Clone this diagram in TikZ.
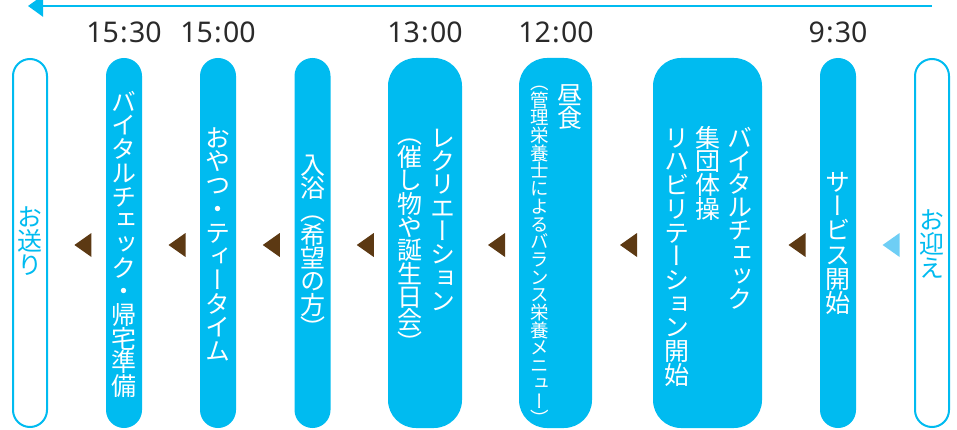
\documentclass[tikz,border=0pt]{standalone}
\usepackage{fontspec}
\newfontfamily\jpfont[RawFeature=+vert]{Noto Sans CJK JP}
\newfontfamily\numfont{Noto Sans}
\usetikzlibrary{calc,arrows.meta}
\definecolor{cyanA}{HTML}{00BBF0}
\definecolor{brownA}{HTML}{5C3913}
\definecolor{lightA}{HTML}{6ECEF5}
\definecolor{timeA}{HTML}{2A2A2A}
\ExplSyntaxOn
\NewDocumentCommand\vcol{O{1em}m}{
  \vbox{
    \baselineskip=#1 \lineskiplimit=-\maxdimen \lineskip=0pt
    \tl_map_inline:nn {#2} { \hbox_to_wd:nn {1em} { \hss \vrule height .88em depth .12em width 0pt ##1 \hss } }
  }
}
\ExplSyntaxOff
\tikzset{
  pill/.style={fill=cyanA, inner sep=0pt, minimum height=370pt},
  opill/.style={draw=cyanA, line width=2pt, fill=white, inner sep=0pt, minimum height=368pt, minimum width=34pt, rounded corners=17pt},
  vtxt/.style={text=white, inner sep=0pt, anchor=north, font=\jpfont\fontsize{25pt}{25pt}\selectfont},
  vtxtc/.style={vtxt, text=cyanA},
  vsmall/.style={vtxt, font=\jpfont\fontsize{18.5pt}{18.5pt}\selectfont},
  timelbl/.style={text=timeA, inner sep=0pt, anchor=base, font=\numfont\fontsize{28.5pt}{28.5pt}\selectfont},
}
\newcommand\tri[3]{\fill[#1] ($(#2.east)!0.5!(#3.west)+(-2.5,2)$) -- ++(17,-12) -- ++(0,24) -- cycle;}
\newcommand\hm[2]{#1\kern1.2pt:\kern1.2pt#2}
\begin{document}
\begin{tikzpicture}[x=1pt,y=-1pt]
\useasboundingbox (0,0) rectangle (957,430);
% top arrow
\coordinate (arrS) at (932,6);
\coordinate (arrE) at (28,6);
\draw[cyanA, line width=2.5pt, -{Triangle[length=15pt,width=21pt]}] (arrS) -- (arrE);
% pills
\node[opill] (p1) at (30,243) {};
\node[pill, minimum width=36pt, rounded corners=18pt] (p2) at (124,243) {};
\node[pill, minimum width=36pt, rounded corners=18pt] (p3) at (218,243) {};
\node[pill, minimum width=36pt, rounded corners=18pt] (p4) at (312.5,243) {};
\node[pill, minimum width=74pt, rounded corners=28pt] (p5) at (425,243) {};
\node[pill, minimum width=73pt, rounded corners=28pt] (p6) at (555.5,243) {};
\node[pill, minimum width=109pt, rounded corners=28pt] (p7) at (707.5,243) {};
\node[pill, minimum width=36pt, rounded corners=18pt] (p8) at (838,243) {};
\node[opill] (p9) at (932,243) {};
% texts
\node[vtxtc] (t1) at (30,204) {\vcol[24.3pt]{お送り}};
\node[vtxt] (t2) at (124,89) {\vcol[23.7pt]{バイタルチェック・帰宅準備}};
\node[vtxt] (t3) at (218,125) {\vcol[23.7pt]{おやつ・ティータイム}};
\node[vtxt] (t4) at (312.5,152) {\vcol[23.3pt]{入浴（希望の方）}};
\node[vtxt] (t5a) at (443,125) {\vcol[23.3pt]{レクリエーション}};
\node[vtxt] (t5b) at (410,121) {\vcol[23.3pt]{（催し物や誕生日会）}};
\node[vtxt] (t6a) at (570,82) {\vcol[23.7pt]{昼食}};
\node[vsmall] (t6b) at (540,73) {\vcol[17.7pt]{（管理栄養士によるバランス栄養メニュー）}};
\node[vtxt] (t7a) at (740,125) {\vcol[23pt]{バイタルチェック}};
\node[vtxt] (t7b) at (708,125) {\vcol[23.7pt]{集団体操}};
\node[vtxt] (t7c) at (677,125) {\vcol[23.7pt]{リハビリテーション開始}};
\node[vtxt] (t8) at (838,169) {\vcol[24.3pt]{サービス開始}};
\node[vtxtc] (t9) at (932,207) {\vcol[24.3pt]{お迎え}};
% times
\node[timelbl] (h1) at (124,43) {\hm{15}{30}};
\node[timelbl] (h2) at (218,43) {\hm{15}{00}};
\node[timelbl] (h3) at (425,43) {\hm{13}{00}};
\node[timelbl] (h4) at (556,43) {\hm{12}{00}};
\node[timelbl] (h5) at (838,43) {\hm{9}{30}};
% markers
\tri{brownA}{p1}{p2}
\tri{brownA}{p2}{p3}
\tri{brownA}{p3}{p4}
\tri{brownA}{p4}{p5}
\tri{brownA}{p5}{p6}
\tri{brownA}{p6}{p7}
\tri{brownA}{p7}{p8}
\tri{lightA}{p8}{p9}
\end{tikzpicture}
\end{document}
